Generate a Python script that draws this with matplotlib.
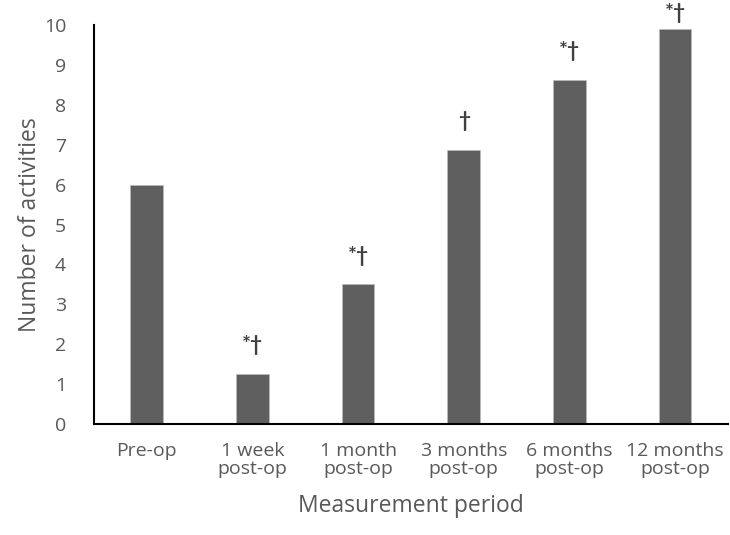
import matplotlib
matplotlib.use("Agg")
import matplotlib.pyplot as plt

periods = ["Pre-op", "1 week\npost-op", "1 month\npost-op", "3 months\npost-op",
           "6 months\npost-op", "12 months\npost-op"]
activities = [6.0, 1.25, 3.5, 6.87, 8.63, 9.90]
marks = ["", "*\u2020", "*\u2020", "\u2020", "*\u2020", "*\u2020"]

plt.rcParams['font.family'] = ['Open Sans', 'DejaVu Sans']
text_col = '#595959'

fig = plt.figure(figsize=(7.3, 5.35), dpi=100)
ax = fig.add_axes([0.1288, 0.2075, 0.8682, 0.7455])

x = range(len(periods))
ax.bar(x, activities, width=0.31, color='#5f5f5f', edgecolor='#bdbdbd', linewidth=0.4)

for i, (v, m) in enumerate(zip(activities, marks)):
    if m:
        # top label gets squeezed under the figure edge, like in the original
        ax.text(i, min(v + 0.72, 10.3), m, ha='center', va='center', fontsize=15,
                fontweight='bold', family=['Lato', 'DejaVu Sans'],
                color='#404040', clip_on=False)

ax.set_xlim(-0.5, len(periods) - 0.5)
ax.set_ylim(0, 10)
ax.set_yticks(range(0, 11))
ax.set_xticks(list(x))
ax.set_xticklabels(periods, linespacing=0.98)
ax.tick_params(axis='both', length=0, labelsize=14, colors=text_col)
ax.tick_params(axis='x', pad=13)
ax.tick_params(axis='y', pad=20)

for s in ['top', 'right']:
    ax.spines[s].set_visible(False)
ax.spines['left'].set_linewidth(1.5)
ax.spines['bottom'].set_linewidth(1.5)

ax.set_xlabel("Measurement period", fontsize=16.5, color=text_col, labelpad=12)
ax.set_ylabel("Number of activities", fontsize=16.5, color=text_col, labelpad=1)

fig.savefig("out.png", dpi=100)
